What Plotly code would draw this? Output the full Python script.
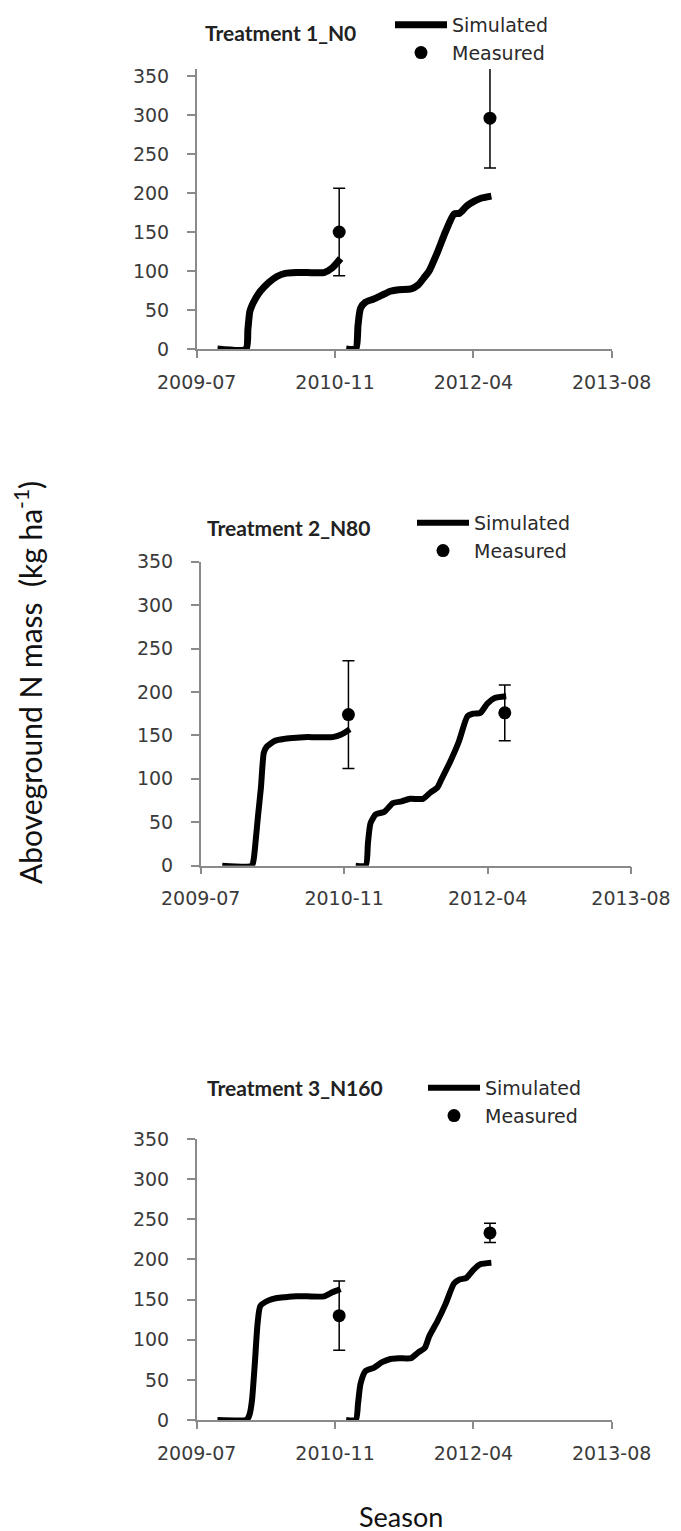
import plotly.graph_objects as go

# ---------------- data ----------------
season1_dates = ['2009-09-19', '2009-12-31', '2010-01-07', '2010-01-14', '2010-01-22', '2010-02-01',
                 '2010-02-11', '2010-02-21', '2010-03-23', '2010-04-22', '2010-05-22', '2010-07-01',
                 '2010-08-10', '2010-10-09', '2010-11-08', '2010-12-08']
season2_dates = ['2010-12-28', '2011-02-01', '2011-02-09', '2011-02-18', '2011-03-08', '2011-04-07',
                 '2011-05-07', '2011-06-06', '2011-07-06', '2011-08-20', '2011-09-14', '2011-10-09',
                 '2011-10-24', '2011-11-23', '2011-12-23', '2012-01-22', '2012-02-11', '2012-03-07',
                 '2012-04-01', '2012-04-26', '2012-06-05']

sim_t1_s1 = [0, 0, 25, 48, 56, 63, 69, 74, 85, 93, 97, 98, 98, 98, 104, 116]
sim_t1_s2 = [0, 0, 30, 52, 60, 64, 69, 74, 76, 77, 82, 93, 100, 124, 151, 173, 174, 183, 189, 193, 196]
sim_t2_s1 = [0, 0, 8, 30, 58, 90, 130, 137, 144, 146, 147, 148, 148, 148, 151, 157]
sim_t2_s2 = [0, 0, 26, 49, 59, 62, 72, 74, 77, 77, 84, 90, 100, 120, 143, 172, 175, 176, 187, 193, 195]
sim_t3_s1 = [0, 0, 2, 8, 25, 70, 120, 142, 149, 152, 153, 154, 154, 154, 159, 163]
sim_t3_s2 = [0, 0, 20, 45, 61, 65, 72, 76, 77, 77, 84, 90, 104, 123, 145, 170, 175, 177, 187, 194, 196]

measured_dates = ['2010-12-03', '2012-05-31']
meas_t1 = [150, 296]
meas_t1_sd = [56, 64]
meas_t2 = [174, 176]
meas_t2_sd = [62, 32]
meas_t3 = [130, 233]
meas_t3_sd = [43, 12]

treatment_titles = ['Treatment 1_N0', 'Treatment 2_N80', 'Treatment 3_N160']
x_tick_dates = ['2009-07-06', '2010-11-18', '2012-04-01', '2013-08-14']
x_tick_labels = ['2009-07', '2010-11', '2012-04', '2013-08']
y_ticks = [0, 50, 100, 150, 200, 250, 300, 350]

# ---------------- layout helpers ----------------
W, H = 681, 1531
PAGE_OFFSET = 8  # default body margin of the html page


def px_x(p):
    return (p - PAGE_OFFSET) / W


def px_y(p):
    return 1 - (p - PAGE_OFFSET) / H


panels = [
    dict(x0=196.7, x1=611.7, top=69, bottom=349, ymax=359, lw=7,
         title_xy=(203, 33), leg_xy=(390, 6)),
    dict(x0=200.7, x1=631.0, top=561.7, bottom=865.7, ymax=350, lw=6,
         title_xy=(205, 528), leg_xy=(412, 504)),
    dict(x0=196.7, x1=611.7, top=1139, bottom=1420, ymax=350, lw=6,
         title_xy=(205, 1087), leg_xy=(423, 1069)),
]

sims = [(sim_t1_s1, sim_t1_s2), (sim_t2_s1, sim_t2_s2), (sim_t3_s1, sim_t3_s2)]
meas = [(meas_t1, meas_t1_sd), (meas_t2, meas_t2_sd), (meas_t3, meas_t3_sd)]

fig = go.Figure()
TICK_FONT = dict(family='DejaVu Sans', size=19, color='#3a3a3a')
AXIS_COLOR = '#8a8a8a'
layout = dict(width=W, height=H, autosize=False,
              margin=dict(l=0, r=0, t=0, b=0, pad=0, autoexpand=False),
              paper_bgcolor='white', plot_bgcolor='white', showlegend=True)
annotations = []

for i, (pan, (s1, s2), (mv, msd)) in enumerate(zip(panels, sims, meas)):
    n = '' if i == 0 else str(i + 1)
    xa, ya = 'x' + n, 'y' + n
    leg = 'legend' + n
    xs = season1_dates + [None] + season2_dates
    ys = s1 + [None] + s2
    fig.add_trace(go.Scatter(x=xs, y=ys, mode='lines', name='Simulated',
                             line=dict(color='black', width=pan['lw'], shape='spline', smoothing=0.6),
                             connectgaps=False, xaxis=xa, yaxis=ya, legend=leg))
    fig.add_trace(go.Scatter(x=measured_dates, y=mv, mode='markers', name='Measured',
                             marker=dict(color='black', size=13),
                             error_y=dict(type='data', array=msd, visible=True, color='black',
                                          thickness=1.5, width=6),
                             cliponaxis=False, xaxis=xa, yaxis=ya, legend=leg))
    layout['xaxis' + n] = dict(domain=[px_x(pan['x0']), px_x(pan['x1'])], anchor=ya, type='date',
                               range=[x_tick_dates[0], x_tick_dates[-1]], tickmode='array',
                               tickvals=x_tick_dates, ticktext=x_tick_labels, showgrid=False,
                               zeroline=False, showline=True, linecolor=AXIS_COLOR, linewidth=1.5,
                               ticks='outside', ticklen=7, tickwidth=1.5, tickcolor=AXIS_COLOR,
                               tickfont=TICK_FONT, ticklabelstandoff=8, automargin=False)
    layout['yaxis' + n] = dict(domain=[px_y(pan['bottom']), px_y(pan['top'])], anchor=xa,
                               range=[0, pan['ymax']], tickmode='array', tickvals=y_ticks,
                               showgrid=False, zeroline=False, showline=True, linecolor=AXIS_COLOR,
                               linewidth=1.5, ticks='outside', ticklen=8, tickwidth=1.5,
                               tickcolor=AXIS_COLOR, tickfont=TICK_FONT, ticklabelstandoff=14,
                               automargin=False)
    layout[leg] = dict(x=px_x(pan['leg_xy'][0]), y=px_y(pan['leg_xy'][1]), xanchor='left',
                       yanchor='top', bgcolor='rgba(0,0,0,0)', borderwidth=0,
                       font=dict(family='DejaVu Sans', size=19, color='#2a2a2a'),
                       itemwidth=52, tracegroupgap=0, itemsizing='trace')
    annotations.append(dict(text='<b>' + treatment_titles[i] + '</b>', xref='paper', yref='paper',
                            x=px_x(pan['title_xy'][0]), y=px_y(pan['title_xy'][1]),
                            xanchor='left', yanchor='middle', showarrow=False,
                            font=dict(family='Lato', size=21, color='#222222')))

annotations.append(dict(text='Aboveground N mass  (kg ha<sup>-1</sup>)', xref='paper', yref='paper',
                        x=px_x(28), y=px_y(683), textangle=-90, showarrow=False,
                        xanchor='center', yanchor='middle',
                        font=dict(family='Lato', size=30, color='#111111')))
annotations.append(dict(text='Season', xref='paper', yref='paper', x=px_x(401), y=px_y(1516),
                        showarrow=False, xanchor='center', yanchor='middle',
                        font=dict(family='Lato', size=27, color='#111111')))
layout['annotations'] = annotations
fig.update_layout(**layout)
fig.write_html('out.html')
